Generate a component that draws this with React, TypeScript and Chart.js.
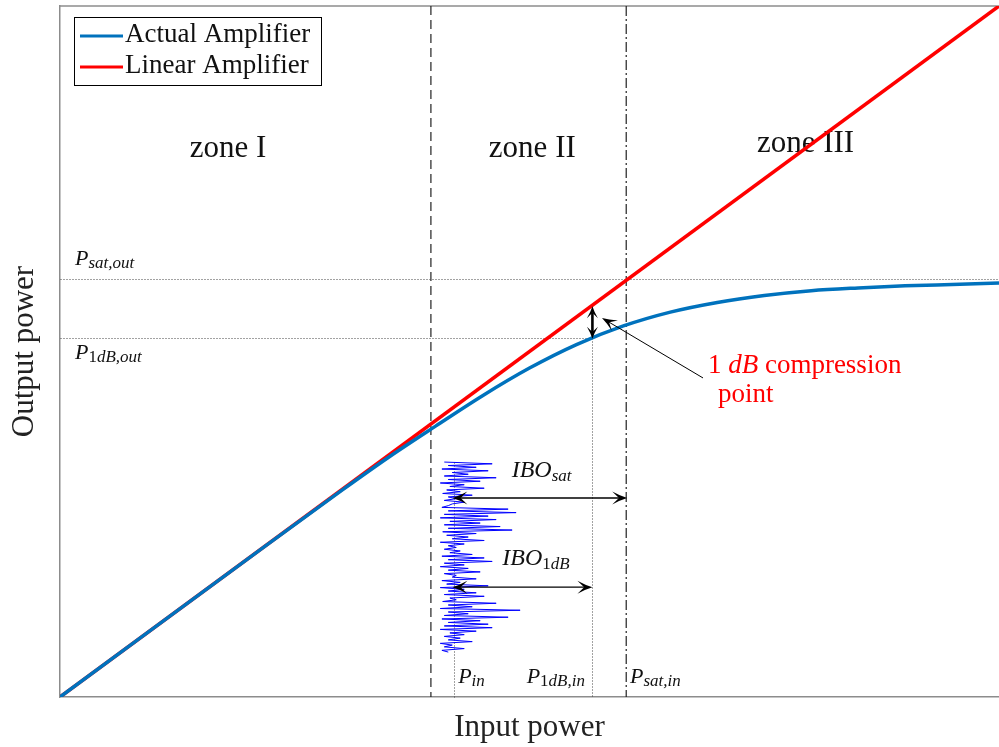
import React, { useEffect, useRef } from 'react';
import { Chart, registerables } from 'chart.js';

Chart.register(...registerables);

// ---------- data ----------
const seriesLabels = ['Actual Amplifier', 'Linear Amplifier'];
const inputPower = [0, 0.1, 0.2, 0.3, 0.35, 0.4, 0.45, 0.5, 0.55, 0.6, 0.65, 0.7, 0.75, 0.8, 0.85, 0.9, 0.95, 1.0];
const actualOutput = [0, 0.1, 0.2, 0.299, 0.347, 0.392, 0.436, 0.476, 0.51, 0.537, 0.557, 0.571, 0.581, 0.588, 0.592, 0.595, 0.597, 0.599];
const linearInput = [0, 1];
const linearOutput = [0, 1];

const zoneBoundaries = [0.395, 0.603];
const zoneLabels = ['zone I', 'zone II', 'zone III'];

const P_IN = 0.42;
const P1DB_IN = 0.567;
const P1DB_OUT = 0.52;
const PSAT_IN = 0.603;
const PSAT_OUT = 0.605;

// input signal (normalised amplitude, top to bottom in time)
const signalLevels = [
  0.05, 0.65, 0.1, 0.45, 0.02, 0.6, 0.15, 0.35, 0.05, 0.7, 0.1, 0.5, 0.0, 0.3, 0.12, 0.55,
  0.08, 0.25, 0.03, 0.4, 0.1, 0.2, 0.05, 0.3, 0.15, 0.1, 0.02, 0.85, 0.1, 0.95, 0.05, 0.6,
  0.0, 0.7, 0.12, 0.5, 0.05, 0.75, 0.1, 0.9, 0.03, 0.45, 0.08, 0.35, 0.15, 0.55, 0.0, 0.3,
  0.1, 0.2, 0.05, 0.25, 0.12, 0.4, 0.02, 0.55, 0.1, 0.65, 0.05, 0.3, 0.0, 0.35, 0.1, 0.5,
  0.05, 0.2, 0.15, 0.45, 0.02, 0.25, 0.08, 0.6, 0.0, 0.3, 0.1, 0.45, 0.05, 0.55, 0.12, 0.2,
  0.03, 0.7, 0.1, 0.4, 0.0, 1.0, 0.1, 0.35, 0.05, 0.85, 0.02, 0.5, 0.1, 0.6, 0.05, 0.65,
  0.0, 0.45, 0.12, 0.3, 0.05, 0.25, 0.1, 0.4, 0.0, 0.15, 0.05, 0.3, 0.02, 0.1,
];
const SIGNAL_BASE = 0.405;
const SIGNAL_SPAN = 0.085;
const SIGNAL_TOP = 0.34;
const SIGNAL_BOTTOM = 0.065;

const FONT = '"Liberation Serif", "Times New Roman", serif';
const BLUE = '#0072BD';
const RED = '#FF0000';

type Seg = { t: string; size: number; italic?: boolean; dy?: number };

function drawRich(ctx: CanvasRenderingContext2D, x: number, y: number, segs: Seg[], color: string) {
  let cx = x;
  ctx.fillStyle = color;
  ctx.textAlign = 'left';
  ctx.textBaseline = 'alphabetic';
  for (const s of segs) {
    ctx.font = `${s.italic ? 'italic ' : ''}${s.size}px ${FONT}`;
    ctx.fillText(s.t, cx, y + (s.dy || 0));
    cx += ctx.measureText(s.t).width;
  }
}

function head(ctx: CanvasRenderingContext2D, tx: number, ty: number, ang: number, L = 12, W = 5) {
  const c = Math.cos(ang), s = Math.sin(ang);
  const bx = tx - L * c, by = ty - L * s;
  const nx = tx - 0.55 * L * c, ny = ty - 0.55 * L * s;
  ctx.beginPath();
  ctx.moveTo(tx, ty);
  ctx.quadraticCurveTo(tx - 0.45 * L * c - 0.3 * W * s, ty - 0.45 * L * s + 0.3 * W * c, bx - W * s, by + W * c);
  ctx.lineTo(nx, ny);
  ctx.lineTo(bx + W * s, by - W * c);
  ctx.quadraticCurveTo(tx - 0.45 * L * c + 0.3 * W * s, ty - 0.45 * L * s - 0.3 * W * c, tx, ty);
  ctx.closePath();
  ctx.fill();
}

function arrow(ctx: CanvasRenderingContext2D, x1: number, y1: number, x2: number, y2: number, both: boolean, lw: number, L = 12, W = 5) {
  const ang = Math.atan2(y2 - y1, x2 - x1);
  ctx.save();
  ctx.strokeStyle = '#000';
  ctx.fillStyle = '#000';
  ctx.lineWidth = lw;
  ctx.setLineDash([]);
  const c = Math.cos(ang), s = Math.sin(ang);
  const sx = both ? x1 + 0.55 * L * c : x1, sy = both ? y1 + 0.55 * L * s : y1;
  const ex = x2 - 0.55 * L * c, ey = y2 - 0.55 * L * s;
  ctx.beginPath();
  ctx.moveTo(sx, sy);
  ctx.lineTo(ex, ey);
  ctx.stroke();
  head(ctx, x2, y2, ang, L, W);
  if (both) head(ctx, x1, y1, ang + Math.PI, L, W);
  ctx.restore();
}

const annotations = {
  id: 'annotations',
  beforeDatasetsDraw(chart: any) {
    const ctx: CanvasRenderingContext2D = chart.ctx;
    const xs = chart.scales.x, ys = chart.scales.y;
    const X = (v: number) => xs.getPixelForValue(v);
    const Y = (v: number) => ys.getPixelForValue(v);
    const { top, bottom, left, right } = chart.chartArea;
    ctx.save();
    // top frame line
    ctx.strokeStyle = '#8c8c8c';
    ctx.lineWidth = 1.5;
    ctx.beginPath();
    ctx.moveTo(left, top);
    ctx.lineTo(right, top);
    ctx.stroke();

    // zone boundaries
    ctx.strokeStyle = '#222';
    ctx.lineWidth = 1.2;
    ctx.setLineDash([9, 5]);
    ctx.beginPath();
    ctx.moveTo(X(zoneBoundaries[0]), top);
    ctx.lineTo(X(zoneBoundaries[0]), bottom);
    ctx.stroke();
    ctx.setLineDash([10, 3, 2, 3]);
    ctx.beginPath();
    ctx.moveTo(X(zoneBoundaries[1]), top);
    ctx.lineTo(X(zoneBoundaries[1]), bottom);
    ctx.stroke();

    // dotted guides
    ctx.strokeStyle = '#444';
    ctx.lineWidth = 1;
    ctx.setLineDash([1, 2]);
    const dotted = (x1: number, y1: number, x2: number, y2: number) => {
      ctx.beginPath();
      ctx.moveTo(Math.round(X(x1)) + 0.5, Math.round(Y(y1)) + 0.5);
      ctx.lineTo(Math.round(X(x2)) + 0.5, Math.round(Y(y2)) + 0.5);
      ctx.stroke();
    };
    dotted(0, PSAT_OUT, 1, PSAT_OUT);
    dotted(0, P1DB_OUT, P1DB_IN, P1DB_OUT);
    dotted(P1DB_IN, P1DB_OUT, P1DB_IN, 0);
    dotted(P_IN, SIGNAL_TOP, P_IN, 0);
    ctx.setLineDash([]);

    // zone labels
    ctx.fillStyle = '#111';
    ctx.font = `31px ${FONT}`;
    ctx.textAlign = 'center';
    ctx.textBaseline = 'alphabetic';
    ctx.fillText(zoneLabels[0], X(0.179), Y(0.7815));
    ctx.fillText(zoneLabels[1], X(0.503), Y(0.7815));
    ctx.fillText(zoneLabels[2], X(0.794), Y(0.789));

    // power labels
    const col = '#111';
    drawRich(ctx, X(0.016), Y(0.625), [{ t: 'P', size: 22, italic: true }, { t: 'sat,out', size: 17, italic: true, dy: 3 }], col);
    drawRich(ctx, X(0.016), Y(0.489), [{ t: 'P', size: 22, italic: true }, { t: '1', size: 17, dy: 3 }, { t: 'dB,out', size: 17, italic: true, dy: 3 }], col);
    drawRich(ctx, X(0.424), Y(0.0203), [{ t: 'P', size: 22, italic: true }, { t: 'in', size: 17, italic: true, dy: 3 }], col);
    drawRich(ctx, X(0.497), Y(0.0203), [{ t: 'P', size: 22, italic: true }, { t: '1', size: 17, dy: 3 }, { t: 'dB,in', size: 17, italic: true, dy: 3 }], col);
    drawRich(ctx, X(0.607), Y(0.0203), [{ t: 'P', size: 22, italic: true }, { t: 'sat,in', size: 17, italic: true, dy: 3 }], col);
    drawRich(ctx, X(0.481), Y(0.318), [{ t: 'IBO', size: 24, italic: true }, { t: 'sat', size: 17, italic: true, dy: 4 }], col);
    drawRich(ctx, X(0.471), Y(0.191), [{ t: 'IBO', size: 24, italic: true }, { t: '1', size: 17, dy: 4 }, { t: 'dB', size: 17, italic: true, dy: 4 }], col);

    // compression label
    drawRich(ctx, X(0.69), Y(0.469), [{ t: '1 ', size: 27 }, { t: 'dB', size: 27, italic: true }, { t: ' compression', size: 27 }], RED);
    drawRich(ctx, X(0.7008), Y(0.427), [{ t: 'point', size: 27 }], RED);
    ctx.restore();
  },
  afterDatasetsDraw(chart: any) {
    const ctx: CanvasRenderingContext2D = chart.ctx;
    const xs = chart.scales.x, ys = chart.scales.y;
    const X = (v: number) => xs.getPixelForValue(v);
    const Y = (v: number) => ys.getPixelForValue(v);
    // IBO arrows
    arrow(ctx, X(P_IN) - 2, Y(0.288), X(PSAT_IN) + 1, Y(0.288), true, 1.4, 15, 6.5);
    arrow(ctx, X(P_IN) - 2, Y(0.159), X(P1DB_IN), Y(0.159), true, 1.4, 15, 6.5);
    // 1 dB vertical arrow
    arrow(ctx, X(P1DB_IN), Y(P1DB_IN) + 1, X(P1DB_IN), Y(P1DB_OUT) + 1, true, 2.6, 12, 5.5);
    // pointer arrow
    arrow(ctx, X(0.6848), Y(0.4617), X(0.5772), Y(0.5485), false, 1, 15, 6);

    // legend
    const ds = chart.data.datasets;
    ctx.save();
    ctx.strokeStyle = '#000';
    ctx.lineWidth = 1;
    ctx.fillStyle = '#fff';
    ctx.fillRect(74.5, 17.5, 247, 68);
    ctx.strokeRect(74.5, 17.5, 247, 68);
    const rows = [36, 67];
    for (let i = 0; i < 2; i++) {
      ctx.strokeStyle = ds[i].borderColor;
      ctx.lineWidth = 3;
      ctx.beginPath();
      ctx.moveTo(80, rows[i]);
      ctx.lineTo(123, rows[i]);
      ctx.stroke();
      ctx.fillStyle = '#111';
      ctx.font = `27px ${FONT}`;
      ctx.textAlign = 'left';
      ctx.textBaseline = 'alphabetic';
      ctx.fillText(ds[i].label, 125, rows[i] + 6);
    }
    ctx.restore();
  },
};

export default function App() {
  const ref = useRef<HTMLCanvasElement | null>(null);
  useEffect(() => {
    document.body.style.margin = '0';
    const canvas = ref.current!;
    const signalData = signalLevels.map((v, i) => ({
      x: SIGNAL_BASE + v * SIGNAL_SPAN,
      y: SIGNAL_TOP - (i * (SIGNAL_TOP - SIGNAL_BOTTOM)) / (signalLevels.length - 1),
    }));
    const chart = new Chart(canvas, {
      type: 'line',
      data: {
        datasets: [
          {
            label: seriesLabels[0],
            data: inputPower.map((x, i) => ({ x, y: actualOutput[i] })),
            borderColor: BLUE,
            borderWidth: 3.5,
            pointRadius: 0,
            cubicInterpolationMode: 'monotone',
            fill: false,
          },
          {
            label: seriesLabels[1],
            data: linearInput.map((x, i) => ({ x, y: linearOutput[i] })),
            borderColor: RED,
            borderWidth: 3.5,
            pointRadius: 0,
            fill: false,
          },
          {
            label: 'signal',
            data: signalData,
            borderColor: '#0000FF',
            borderWidth: 1,
            pointRadius: 0,
            tension: 0,
            fill: false,
          },
        ],
      } as any,
      options: {
        animation: false,
        responsive: false,
        devicePixelRatio: 1,
        layout: { padding: { top: 6, right: 0, left: 0, bottom: 0 } },
        plugins: { legend: { display: false }, tooltip: { enabled: false } },
        scales: {
          x: {
            type: 'linear',
            min: 0,
            max: 1,
            ticks: { display: false },
            grid: { display: false, drawTicks: false },
            border: { display: true, color: '#8c8c8c', width: 1.5 },
            title: { display: true, text: 'Input power', color: '#222', font: { family: FONT, size: 31 }, padding: { top: 0, bottom: 1 } },
            afterFit: (s: any) => { s.height = 50; },
          },
          y: {
            type: 'linear',
            min: 0,
            max: 1,
            ticks: { display: false },
            grid: { display: false, drawTicks: false },
            border: { display: true, color: '#8c8c8c', width: 1.5 },
            title: { display: true, text: 'Output power', color: '#222', font: { family: FONT, size: 31 }, padding: { top: 6, bottom: 0 } },
            afterFit: (s: any) => { s.width = 60; },
          },
        },
      } as any,
      plugins: [annotations],
    });
    return () => chart.destroy();
  }, []);
  return (
    <div style={{ width: 999, height: 747 }}>
      <canvas ref={ref} width={999} height={747} style={{ display: 'block' }} />
    </div>
  );
}
